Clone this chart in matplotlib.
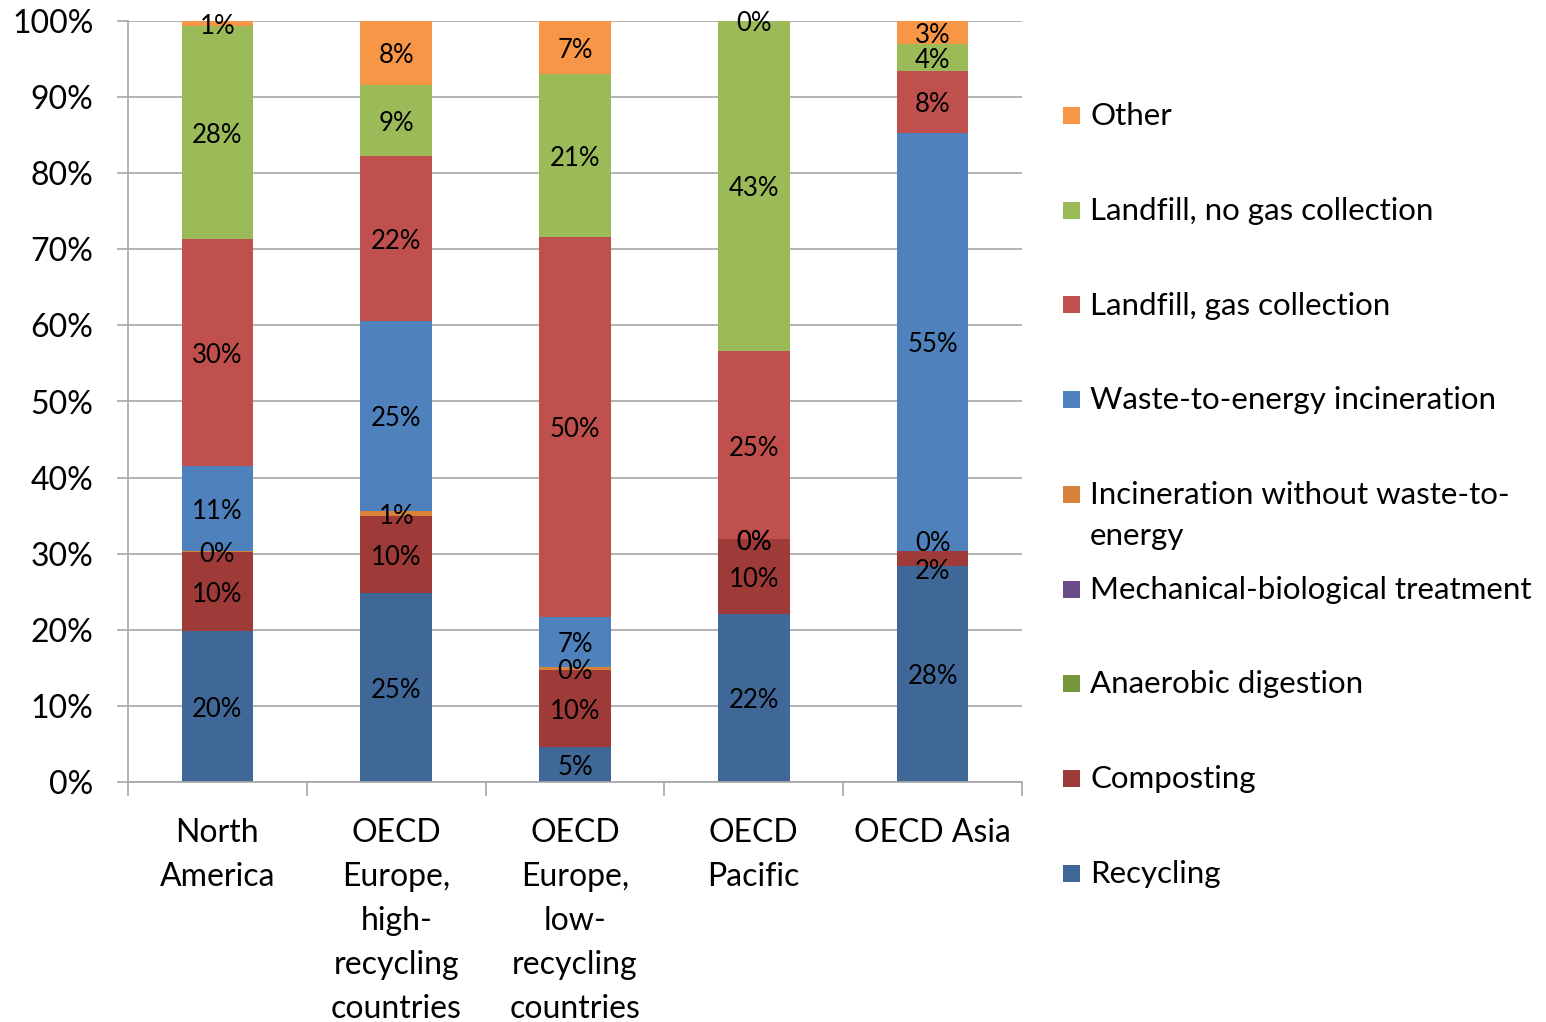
import matplotlib
matplotlib.use("Agg")
import matplotlib.pyplot as plt
from matplotlib.patches import Rectangle
from matplotlib.transforms import offset_copy
import numpy as np

plt.rcParams['font.family'] = ['Lato', 'DejaVu Sans']

regions = ["North\nAmerica", "OECD\nEurope,\nhigh-\nrecycling\ncountries",
           "OECD\nEurope,\nlow-\nrecycling\ncountries", "OECD\nPacific", "OECD Asia"]

# shares in percent, stacked bottom to top
recycling = [19.8, 24.8, 4.6, 22.1, 28.4]
composting = [10.4, 10.2, 10.1, 9.8, 2.0]
anaerobic = [0.0, 0.0, 0.0, 0.0, 0.0]
mbt = [0.0, 0.0, 0.0, 0.0, 0.0]
incineration = [0.1, 0.6, 0.4, 0.0, 0.0]
wte = [11.2, 25.0, 6.6, 0.0, 54.9]
landfill_gas = [29.8, 21.7, 49.9, 24.7, 8.1]
landfill_nogas = [28.1, 9.3, 21.4, 43.4, 3.6]
other = [0.6, 8.4, 7.0, 0.0, 3.0]

series = [
    ("Recycling", recycling, "#3F6797", True),
    ("Composting", composting, "#9E3B39", True),
    ("Anaerobic digestion", anaerobic, "#77963C", False),
    ("Mechanical-biological treatment", mbt, "#6A4E8C", False),
    ("Incineration without waste-to-\nenergy", incineration, "#D8823A", True),
    ("Waste-to-energy incineration", wte, "#4F81BD", True),
    ("Landfill, gas collection", landfill_gas, "#C0504D", True),
    ("Landfill, no gas collection", landfill_nogas, "#9BBB59", True),
    ("Other", other, "#F79646", True),
]

# labels pushed apart where two of them would collide (series, region index) -> shift in %
nudge = {("Composting", 4): -1.4, ("Incineration without waste-to-\nenergy", 4): 1.3}

W, H = 1546, 1022
fig = plt.figure(figsize=(W / 100, H / 100), dpi=100)
ax = fig.add_axes([128 / W, 1 - 782 / H, (1022 - 128) / W, (782 - 21) / H])
label_tf = offset_copy(ax.transData, fig=fig, y=-2, units="points")

x = np.arange(len(regions))
bottom = np.zeros(len(regions))
for name, vals, color, labelled in series:
    vals = np.array(vals)
    ax.bar(x, vals, 0.4, bottom=bottom, color=color, zorder=2)
    if labelled:
        for i, (xi, b, v) in enumerate(zip(x, bottom, vals)):
            ax.text(xi, b + v / 2 + nudge.get((name, i), 0), f"{v:.0f}%",
                    ha="center", va="center", fontsize=18.5, color="black",
                    zorder=3, transform=label_tf)
    bottom += vals

ax.set_xlim(-0.5, len(regions) - 0.5)
ax.set_ylim(0, 100)
ax.set_yticks(np.arange(0, 101, 10))
ax.set_yticklabels([f"{t}%" for t in range(0, 101, 10)])
ax.yaxis.grid(True, color="#A6A6A6", linewidth=1.2, zorder=0)
ax.set_axisbelow(True)

ax.set_xticks(x)
ax.set_xticklabels(regions, linespacing=1.58)
ax.set_xticks(np.arange(-0.5, len(regions)), minor=True)
ax.tick_params(axis="x", which="major", length=0, pad=26, labelsize=23)
ax.tick_params(axis="x", which="minor", length=10, color="#A6A6A6", width=1.2)
ax.tick_params(axis="y", length=8, color="#A6A6A6", width=1.2, pad=17, labelsize=23)

for s in ["top", "right"]:
    ax.spines[s].set_visible(False)
for s in ["left", "bottom"]:
    ax.spines[s].set_color("#A6A6A6")
    ax.spines[s].set_linewidth(1.2)

# legend, top entry first
y_first, step, line_h = 116, 94.75, 41
for i, (name, vals, color, labelled) in enumerate(reversed(series)):
    yc = y_first + i * step
    fig.patches.append(Rectangle((1063 / W, 1 - (yc + 8) / H), 17 / W, 17 / H,
                                 transform=fig.transFigure, facecolor=color,
                                 edgecolor="none"))
    for j, line in enumerate(name.split("\n")):
        fig.text(1090 / W, 1 - (yc + j * line_h) / H, line, ha="left",
                 va="center", fontsize=22.5)

fig.savefig("out.png", dpi=100)
